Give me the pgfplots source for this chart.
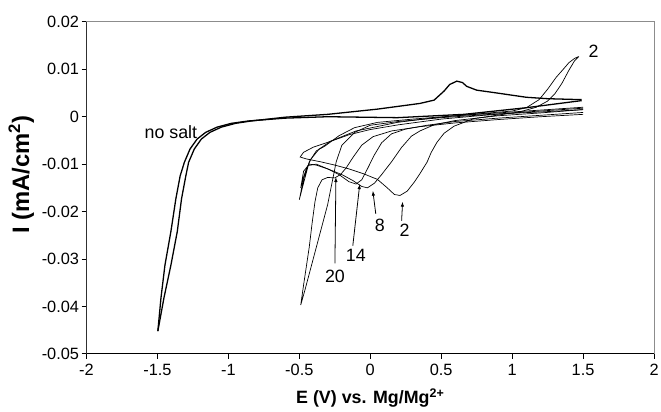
\documentclass[border=0pt]{standalone}
\usepackage{pgfplots}
\pgfplotsset{compat=1.18}
\usepackage{fontspec}
\setmainfont{Liberation Sans}
\usetikzlibrary{arrows.meta}
\begin{document}
\begin{tikzpicture}
\useasboundingbox (-87bp,-58bp) rectangle (578bp,356bp);
\begin{axis}[
  at={(0,0)}, anchor=south west,
  scale only axis, width=571bp, height=334bp,
  xmin=-2, xmax=2, ymin=-0.05, ymax=0.02,
  scaled y ticks=false, scaled x ticks=false,
  xtick={-2,-1.5,-1,-0.5,0,0.5,1,1.5,2},
  xticklabels={-2,-1.5,-1,-0.5,0,0.5,1,1.5,2},
  ytick={-0.05,-0.04,-0.03,-0.02,-0.01,0,0.01,0.02},
  yticklabels={-0.05,-0.04,-0.03,-0.02,-0.01,0,0.01,0.02},
  tick align=outside, xtick pos=bottom, ytick pos=left,
  major tick length=5bp,
  tick style={black, line width=0.8pt},
  axis line style={black!45, line width=0.8pt},
  ticklabel style={font=\fontsize{16.5}{17}\selectfont},
  xticklabel style={yshift=-2bp},
  yticklabel style={xshift=1bp},
  xlabel={E (V) vs. Mg/Mg\textsuperscript{2+}},
  ylabel={I (mA/cm\textsuperscript{2})},
  every axis x label/.style={at={(axis description cs:0.5,-0.132)}, anchor=center, font=\bfseries\fontsize{18}{18}\selectfont},
  every axis y label/.style={at={(axis description cs:-0.115,0.54)}, rotate=90, anchor=center, font=\bfseries\fontsize{24}{24}\selectfont},
]
\draw[black, line width=0.8pt] (rel axis cs:0,1) -- (rel axis cs:0,0) -- (rel axis cs:1,0);

% no salt, trace 1 (lower branch)
\addplot[black, line width=1.3pt] coordinates {
(1.49,0.0034) (1.1,0.0019) (0.66,0.0005) (0.19,-0.0002) (-0.3,0.0) (-0.6,-0.0003) (-0.86,-0.0009) (-0.98,-0.0014) (-1.08,-0.0022) (-1.16,-0.0033) (-1.22,-0.0047) (-1.27,-0.0068) (-1.31,-0.0096) (-1.34,-0.0125) (-1.37,-0.0173) (-1.405,-0.0242) (-1.447,-0.0313) (-1.475,-0.0382) (-1.497,-0.0452)
};
% no salt, trace 2 (upper branch with peak)
\addplot[black, line width=1.3pt] coordinates {
(-1.497,-0.0452) (-1.454,-0.0382) (-1.405,-0.0313) (-1.36,-0.0242) (-1.33,-0.0173) (-1.30,-0.0125) (-1.28,-0.0096) (-1.24,-0.0068) (-1.19,-0.0047) (-1.13,-0.0033) (-1.05,-0.0022) (-0.95,-0.0014) (-0.84,-0.0009) (-0.6,-0.0001) (-0.3,0.0005) (0.05,0.0016) (0.35,0.0028) (0.45,0.0035) (0.52,0.0054) (0.56,0.0068) (0.61,0.0075) (0.65,0.0072) (0.68,0.0064) (0.75,0.0056) (0.87,0.0051) (1.10,0.0041) (1.25,0.0038) (1.49,0.0036)
};

% cycle 2
\addplot[black, line width=0.7pt] coordinates {
(1.47,0.0127) (1.44,0.0118) (1.40,0.0098) (1.35,0.0070) (1.30,0.0048) (1.25,0.0033) (1.17,0.0020) (1.05,0.0010) (0.89,0.0003) (0.73,-0.0004) (0.59,-0.0020) (0.52,-0.0035) (0.47,-0.0054) (0.43,-0.0075) (0.40,-0.0096) (0.35,-0.0120) (0.31,-0.0138) (0.26,-0.0157) (0.21,-0.0166) (0.17,-0.0164) (0.12,-0.0150) (0.05,-0.0132) (-0.05,-0.0120) (-0.15,-0.0110) (-0.25,-0.0102) (-0.35,-0.0095) (-0.45,-0.0089) (-0.494,-0.0085)
(-0.47,-0.0075) (-0.40,-0.0064) (-0.30,-0.0054) (-0.10,-0.0030) (0.19,-0.0012) (0.4,-0.0004) (0.6,0.0002) (0.8,0.0007) (1.0,0.0012) (1.1,0.0019) (1.19,0.0036) (1.25,0.0058) (1.31,0.0083) (1.36,0.0100) (1.40,0.0114) (1.44,0.0123) (1.47,0.0127)
};
% cycle 8
\addplot[black, line width=0.7pt] coordinates {
(1.5,0.0015) (1.2,0.0008) (0.9,0.0002) (0.6,-0.0008) (0.45,-0.0017) (0.35,-0.0030) (0.29,-0.0041) (0.22,-0.0065) (0.15,-0.0095) (0.08,-0.0122) (0.03,-0.0140) (-0.02,-0.0150) (-0.06,-0.0147) (-0.12,-0.0135) (-0.2,-0.0122) (-0.3,-0.0110) (-0.38,-0.0102) (-0.43,-0.0100) (-0.47,-0.0115) (-0.49,-0.0150)
(-0.46,-0.0118) (-0.42,-0.0090) (-0.36,-0.0068) (-0.28,-0.0052) (-0.15,-0.0038) (0.0,-0.0027) (0.2,-0.0017) (0.5,-0.0005) (0.8,0.0003) (1.1,0.0010) (1.5,0.0018)
};
% cycle 14
\addplot[black, line width=0.7pt] coordinates {
(1.5,0.0009) (1.2,0.0003) (0.9,-0.0003) (0.6,-0.0010) (0.4,-0.0018) (0.25,-0.0026) (0.15,-0.0036) (0.08,-0.0055) (0.03,-0.0080) (-0.02,-0.0110) (-0.06,-0.0133) (-0.10,-0.0142) (-0.15,-0.0137) (-0.22,-0.0122) (-0.30,-0.0110) (-0.38,-0.0100) (-0.44,-0.0103) (-0.47,-0.0130) (-0.50,-0.0175)
(-0.47,-0.0140) (-0.43,-0.0095) (-0.38,-0.0072) (-0.32,-0.0062) (-0.22,-0.0040) (-0.11,-0.0023) (0.05,-0.0012) (0.3,-0.0005) (0.6,0.0002) (1.0,0.0010) (1.5,0.0020)
};
% cycle 20
\addplot[black, line width=0.7pt] coordinates {
(1.5,0.0005) (1.2,0.0) (0.9,-0.0006) (0.6,-0.0013) (0.35,-0.0021) (0.15,-0.0030) (0.02,-0.0042) (-0.06,-0.0060) (-0.12,-0.0085) (-0.17,-0.0108) (-0.21,-0.0122) (-0.25,-0.0129) (-0.30,-0.0128) (-0.34,-0.0133) (-0.37,-0.0150) (-0.39,-0.0180) (-0.41,-0.0225) (-0.43,-0.0275) (-0.45,-0.0315) (-0.47,-0.0355) (-0.49,-0.0397)
(-0.46,-0.0365) (-0.42,-0.0320) (-0.38,-0.0275) (-0.34,-0.0230) (-0.30,-0.0185) (-0.27,-0.0140) (-0.24,-0.0095) (-0.20,-0.0060) (-0.11,-0.0033) (0.0,-0.0018) (0.2,-0.0010) (0.5,-0.0002) (0.9,0.0006) (1.2,0.0010) (1.5,0.0015)
};

% annotations
\draw[-{Latex[length=5pt,width=3.5pt]}, line width=0.8pt] (axis cs:-0.249,-0.0309) -- (axis cs:-0.242,-0.0127);
\draw[-{Latex[length=5pt,width=3.5pt]}, line width=0.8pt] (axis cs:-0.123,-0.0272) -- (axis cs:-0.074,-0.0142);
\draw[-{Latex[length=5pt,width=3.5pt]}, line width=0.8pt] (axis cs:0.039,-0.0205) -- (axis cs:0.018,-0.0156);
\draw[-{Latex[length=5pt,width=3.5pt]}, line width=0.8pt] (axis cs:0.221,-0.0219) -- (axis cs:0.228,-0.0179);
\node[font=\fontsize{18}{18}\selectfont] at (axis cs:-0.249,-0.0337) {20};
\node[font=\fontsize{18}{18}\selectfont] at (axis cs:-0.102,-0.0293) {14};
\node[font=\fontsize{18}{18}\selectfont] at (axis cs:0.067,-0.0230) {8};
\node[font=\fontsize{18}{18}\selectfont] at (axis cs:0.242,-0.0240) {2};
\node[font=\fontsize{18}{18}\selectfont] at (axis cs:1.573,0.0137) {2};
\node[font=\fontsize{18}{18}\selectfont] at (axis cs:-1.405,-0.0033) {no salt};
\end{axis}
\end{tikzpicture}
\end{document}
